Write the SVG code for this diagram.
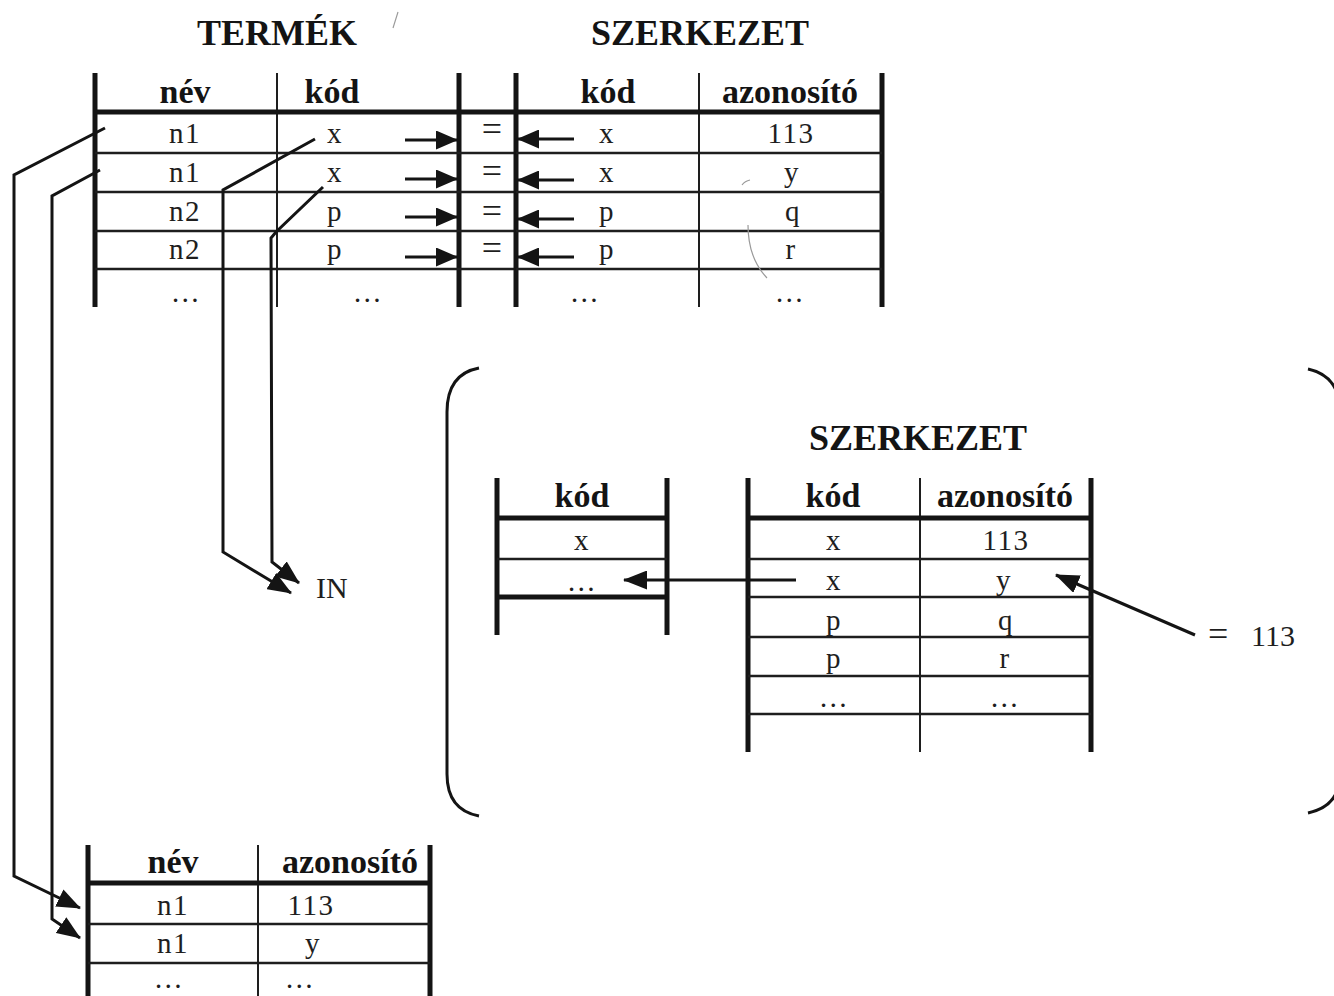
<svg xmlns="http://www.w3.org/2000/svg" width="1334" height="996" viewBox="0 0 1334 996">
<style>
.thick{stroke:#141414;stroke-width:5;fill:none}
.thin{stroke:#1e1e1e;stroke-width:2.5;fill:none}
.hair{stroke:#1e1e1e;stroke-width:2;fill:none}
.conn{stroke:#141414;stroke-width:3;fill:none;stroke-linejoin:miter}
.faint{stroke:#9a9a9a;stroke-width:1.2;fill:none}
.title{font-family:"Liberation Serif",serif;font-weight:bold;font-size:36px;text-anchor:middle;fill:#141414}
.hdr{font-family:"Liberation Serif",serif;font-weight:bold;font-size:34px;text-anchor:middle;fill:#141414}
.cell{font-family:"Liberation Serif",serif;font-size:29px;text-anchor:middle;fill:#1e1e1e;letter-spacing:1.5px}
.lbl{font-family:"Liberation Serif",serif;font-size:30px;fill:#1e1e1e}
.eq{font-family:"Liberation Serif",serif;font-size:36px;fill:#1e1e1e;text-anchor:middle}
</style>
<defs>
<marker id="ah" viewBox="0 0 24 19" refX="23" refY="9.5" markerWidth="24" markerHeight="19" markerUnits="userSpaceOnUse" orient="auto"><path d="M0,0 L24,9.5 L0,19 z" fill="#141414"/></marker>
<marker id="ahs" viewBox="0 0 22 19" refX="21" refY="9.5" markerWidth="22" markerHeight="19" markerUnits="userSpaceOnUse" orient="auto"><path d="M0,0 L22,9.5 L0,19 z" fill="#141414"/></marker>
</defs>
<rect width="1334" height="996" fill="#ffffff"/>

<g id="title-termek"><text class="title" x="277" y="45">TERMÉK</text></g>
<g id="title-szerkezet"><text class="title" x="700" y="45">SZERKEZET</text></g>

<g id="table-termek">
<line class="thick" x1="95" y1="73" x2="95" y2="307"/>
<line class="hair" x1="277" y1="73" x2="277" y2="307"/>
<line class="thick" x1="459" y1="73" x2="459" y2="307"/>
<line class="thick" x1="95" y1="112" x2="459" y2="112"/>
<line class="thin" x1="95" y1="153" x2="459" y2="153"/>
<line class="thin" x1="95" y1="192" x2="459" y2="192"/>
<line class="thin" x1="95" y1="231" x2="459" y2="231"/>
<line class="thin" x1="95" y1="269" x2="459" y2="269"/>
<text class="hdr" x="185" y="103">név</text>
<text class="hdr" x="332" y="103">kód</text>
<text class="cell" x="185" y="143">n1</text>
<text class="cell" x="185" y="182">n1</text>
<text class="cell" x="185" y="221">n2</text>
<text class="cell" x="185" y="259">n2</text>
<text class="cell" x="186" y="302">…</text>
<text class="cell" x="335" y="143">x</text>
<text class="cell" x="335" y="182">x</text>
<text class="cell" x="335" y="221">p</text>
<text class="cell" x="335" y="259">p</text>
<text class="cell" x="368" y="302">…</text>
</g>

<g id="eq-column">
<line class="thick" x1="459" y1="112" x2="516" y2="112"/>
<line class="thin" x1="459" y1="153" x2="516" y2="153"/>
<line class="thin" x1="459" y1="192" x2="516" y2="192"/>
<line class="thin" x1="459" y1="231" x2="516" y2="231"/>
<line class="thin" x1="459" y1="269" x2="516" y2="269"/>
<text class="eq" x="492" y="141">=</text>
<text class="eq" x="492" y="183">=</text>
<text class="eq" x="492" y="223">=</text>
<text class="eq" x="492" y="260">=</text>
</g>

<g id="table-szerkezet">
<line class="thick" x1="516" y1="73" x2="516" y2="307"/>
<line class="hair" x1="699" y1="73" x2="699" y2="307"/>
<line class="thick" x1="882" y1="73" x2="882" y2="307"/>
<line class="thick" x1="516" y1="112" x2="882" y2="112"/>
<line class="thin" x1="516" y1="153" x2="882" y2="153"/>
<line class="thin" x1="516" y1="192" x2="882" y2="192"/>
<line class="thin" x1="516" y1="231" x2="882" y2="231"/>
<line class="thin" x1="516" y1="269" x2="882" y2="269"/>
<text class="hdr" x="608" y="103">kód</text>
<text class="hdr" x="790" y="103">azonosító</text>
<text class="cell" x="607" y="143">x</text>
<text class="cell" x="607" y="182">x</text>
<text class="cell" x="607" y="221">p</text>
<text class="cell" x="607" y="259">p</text>
<text class="cell" x="585" y="302">…</text>
<text class="cell" x="791" y="143">113</text>
<text class="cell" x="792" y="182">y</text>
<text class="cell" x="793" y="221">q</text>
<text class="cell" x="791" y="259">r</text>
<text class="cell" x="790" y="302">…</text>
</g>

<g id="bracket">
<path class="conn" stroke-width="2.5" d="M479,368 Q447,374 447,412 L447,774 Q447,810 479,816"/>
<path class="conn" stroke-width="2.5" d="M1308,369 Q1340,376 1340,412 L1340,774 Q1340,806 1308,813"/>
</g>

<g id="title-inner"><text class="title" x="918" y="450">SZERKEZET</text></g>

<g id="table-result-kod">
<line class="thick" x1="497" y1="478" x2="497" y2="635"/>
<line class="thick" x1="667" y1="478" x2="667" y2="635"/>
<line class="thick" x1="497" y1="518" x2="667" y2="518"/>
<line class="thin" x1="497" y1="559" x2="667" y2="559"/>
<line class="thick" stroke-width="3.5" x1="497" y1="597" x2="667" y2="597"/>
<text class="hdr" x="582" y="507">kód</text>
<text class="cell" x="582" y="550">x</text>
<text class="cell" x="582" y="591">…</text>
</g>

<g id="table-inner-szerkezet">
<line class="thick" x1="748" y1="478" x2="748" y2="752"/>
<line class="hair" x1="920" y1="478" x2="920" y2="752"/>
<line class="thick" x1="1091" y1="478" x2="1091" y2="752"/>
<line class="thick" x1="748" y1="518" x2="1091" y2="518"/>
<line class="thin" x1="748" y1="559" x2="1091" y2="559"/>
<line class="thin" x1="748" y1="597" x2="1091" y2="597"/>
<line class="thin" x1="748" y1="637" x2="1091" y2="637"/>
<line class="thin" x1="748" y1="676" x2="1091" y2="676"/>
<line class="thin" x1="748" y1="714" x2="1091" y2="714"/>
<text class="hdr" x="833" y="507">kód</text>
<text class="hdr" x="1005" y="507">azonosító</text>
<text class="cell" x="834" y="550">x</text>
<text class="cell" x="834" y="590">x</text>
<text class="cell" x="834" y="630">p</text>
<text class="cell" x="834" y="668">p</text>
<text class="cell" x="834" y="707">…</text>
<text class="cell" x="1006" y="550">113</text>
<text class="cell" x="1004" y="590">y</text>
<text class="cell" x="1006" y="630">q</text>
<text class="cell" x="1005" y="668">r</text>
<text class="cell" x="1005" y="707">…</text>
</g>

<g id="label-in"><text class="lbl" x="316" y="598">IN</text></g>
<g id="label-113"><text class="lbl" x="1208" y="646"><tspan font-size="36">=</tspan><tspan x="1251">113</tspan></text></g>

<g id="table-result">
<line class="thick" x1="88" y1="845" x2="88" y2="996"/>
<line class="hair" x1="258" y1="845" x2="258" y2="996"/>
<line class="thick" x1="430" y1="845" x2="430" y2="996"/>
<line class="thick" x1="88" y1="883" x2="430" y2="883"/>
<line class="thin" x1="88" y1="924" x2="430" y2="924"/>
<line class="thin" x1="88" y1="963" x2="430" y2="963"/>
<text class="hdr" x="173" y="873">név</text>
<text class="hdr" x="350" y="873">azonosító</text>
<text class="cell" x="173" y="915">n1</text>
<text class="cell" x="311" y="915">113</text>
<text class="cell" x="173" y="953">n1</text>
<text class="cell" x="313" y="953">y</text>
<text class="cell" x="169" y="988">…</text>
<text class="cell" x="300" y="988">…</text>
</g>

<g id="connectors">
<line class="conn" x1="405" y1="140" x2="457" y2="140" marker-end="url(#ahs)"/>
<line class="conn" x1="405" y1="179" x2="457" y2="179" marker-end="url(#ahs)"/>
<line class="conn" x1="405" y1="217" x2="457" y2="217" marker-end="url(#ahs)"/>
<line class="conn" x1="405" y1="257" x2="457" y2="257" marker-end="url(#ahs)"/>
<line class="conn" x1="574" y1="139" x2="518" y2="139" marker-end="url(#ahs)"/>
<line class="conn" x1="574" y1="180" x2="518" y2="180" marker-end="url(#ahs)"/>
<line class="conn" x1="574" y1="219" x2="518" y2="219" marker-end="url(#ahs)"/>
<line class="conn" x1="574" y1="257" x2="518" y2="257" marker-end="url(#ahs)"/>
<polyline class="conn" points="105,128 14,175 14,876 80,908" marker-end="url(#ah)"/>
<polyline class="conn" points="100,170 52,196 52,919 80,938" marker-end="url(#ah)"/>
<polyline class="conn" points="315,139 223,190 223,552 291,593" marker-end="url(#ah)"/>
<polyline class="conn" points="323,187 276,232 271,238 272,562 299,583" marker-end="url(#ah)"/>
<line class="conn" x1="796" y1="580" x2="624" y2="580" marker-end="url(#ah)"/>
<line class="conn" x1="1195" y1="635" x2="1056" y2="575" marker-end="url(#ah)"/>
</g>

<g id="marks">
<path class="faint" d="M742,185 Q745,181 750,180"/>
<path class="faint" d="M748,225 Q748,258 767,278"/>
<path class="faint" d="M398,12 L393,28"/>
</g>
</svg>
